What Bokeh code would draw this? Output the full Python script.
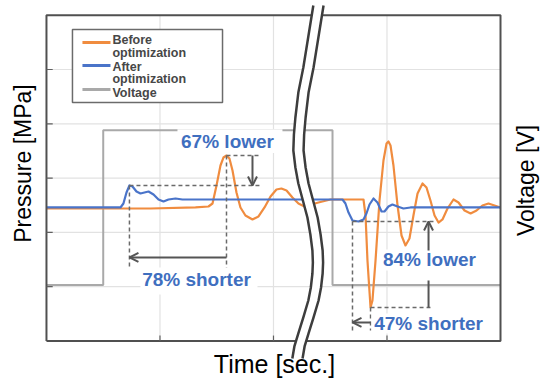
from math import pi
from bokeh.plotting import figure
from bokeh.models import Range1d, Arrow, OpenHead
from bokeh.core.properties import value
from bokeh.embed import file_html
from bokeh.resources import INLINE

FONT = "Liberation Sans"

# ---------------- data (arbitrary units: time 0..4, pressure/voltage 0..6) ----------------
x_grid = [1, 2, 3]
y_grid = [1, 2, 3, 4, 5]

voltage_t = [0, 0.50, 0.50, 2.52, 2.52, 4.0]
voltage_v = [1.03, 1.03, 3.88, 3.88, 1.03, 1.03]

before_t = [0, 0.916, 1.313, 1.427, 1.463, 1.498, 1.533, 1.559, 1.586, 1.612, 1.639, 1.674,
            1.709, 1.753, 1.815, 1.868, 1.921, 1.974, 2.026, 2.070, 2.115, 2.167, 2.220,
            2.273, 2.396, 2.502, 2.793, 2.811, 2.828, 2.855, 2.872, 2.899, 2.934, 2.969,
            2.996, 3.013, 3.031, 3.057, 3.093, 3.128, 3.163, 3.198, 3.233, 3.269, 3.313,
            3.348, 3.383, 3.419, 3.454, 3.489, 3.533, 3.586, 3.630, 3.683, 3.736, 3.789,
            3.841, 3.894, 3.947, 4.0]
before_p = [2.440, 2.440, 2.459, 2.477, 2.532, 2.864, 3.232, 3.379, 3.416, 3.361, 3.140, 2.735,
            2.459, 2.311, 2.238, 2.293, 2.459, 2.661, 2.790, 2.808, 2.772, 2.643, 2.532,
            2.477, 2.551, 2.606, 2.606, 2.311, 1.483, 0.617, 0.746, 1.483, 2.587, 3.324,
            3.637, 3.674, 3.600, 3.232, 2.495, 1.943, 1.759, 1.888, 2.311, 2.716, 2.901,
            2.827, 2.587, 2.311, 2.182, 2.238, 2.440, 2.606, 2.551, 2.403, 2.348, 2.403,
            2.495, 2.532, 2.495, 2.459]

after_t = [0, 0.652, 0.678, 0.705, 0.731, 0.758, 0.793, 0.828, 0.863, 0.899, 0.943, 0.987,
           1.031, 1.075, 1.137, 1.198, 1.269, 2.608, 2.634, 2.661, 2.696, 2.749, 2.793,
           2.819, 2.846, 2.881, 2.916, 2.952, 2.978, 3.013, 3.048, 3.093, 3.145, 3.207, 4.0]
after_p = [2.459, 2.459, 2.532, 2.735, 2.864, 2.845, 2.753, 2.716, 2.735, 2.753, 2.698, 2.606,
           2.569, 2.606, 2.624, 2.606, 2.606, 2.606, 2.532, 2.366, 2.219, 2.201, 2.238,
           2.348, 2.514, 2.624, 2.551, 2.385, 2.385, 2.477, 2.514, 2.477, 2.440, 2.459, 2.459]

series_labels = ["Before\noptimization", "After\noptimization", "Voltage"]

# annotation reference levels
rise_after_t, rise_before_t = 0.731, 1.586      # first peak times
peak_after_p, peak_before_p = 2.864, 3.416      # first peak heights
dip_after_t, dip_before_t = 2.696, 2.855        # trough times after voltage off
dip_after_p, dip_before_p = 2.201, 0.617        # trough depths

annot_text = ["67% lower", "78% shorter", "84% lower", "47% shorter"]
annot_x = [1.595, 1.322, 3.374, 3.366]
annot_y = [3.674, 1.133, 1.501, 0.322]
annot_box_l = [1.154, 0.828, 2.934, 2.863]
annot_box_r = [2.079, 1.859, 3.833, 3.877]
annot_box_b = [3.46, 0.856, 1.298, 0.138]
annot_box_t = [3.90, 1.354, 1.685, 0.506]

# axis-break (double wavy line) centre path
break_x = [2.396, 2.352, 2.308, 2.264, 2.238, 2.225, 2.220, 2.238, 2.264, 2.304, 2.344, 2.370,
           2.388, 2.392, 2.388, 2.374, 2.352, 2.308, 2.264, 2.229, 2.211]
break_y = [6.179, 5.608, 5.037, 4.576, 4.116, 3.803, 3.508, 3.195, 2.901, 2.587, 2.274, 1.961,
           1.667, 1.446, 1.243, 0.985, 0.746, 0.433, 0.138, -0.101, -0.322]
break_half_gap = 0.045

ORANGE = "#F08C3F"
BLUE = "#4A74C9"
GRAY = "#A9A9A9"
TXT_BLUE = "#3F6FBF"
DARK = "#555555"

p = figure(width=542, height=378, x_range=Range1d(-0.405, 4.370), y_range=Range1d(-0.691, 6.271),
           output_backend="svg", toolbar_location=None, x_axis_type=None, y_axis_type=None,
           min_border=0, outline_line_color=None, title=None,
           background_fill_color="white", border_fill_color="white")

# grid
p.segment(x0=[0] * len(y_grid), y0=y_grid, x1=[4] * len(y_grid), y1=y_grid,
          line_color="#E2E2E2", line_width=1.2)
p.segment(x0=x_grid, y0=[0] * len(x_grid), x1=x_grid, y1=[6] * len(x_grid),
          line_color="#E2E2E2", line_width=1.2)

# series
p.line(voltage_t, voltage_v, line_color=GRAY, line_width=2)
p.line(before_t, before_p, line_color=ORANGE, line_width=2.2, line_join="round")
p.line(after_t, after_p, line_color=BLUE, line_width=2.2, line_join="round")

# dashed helper lines
dx0 = [rise_after_t, rise_before_t, rise_after_t, rise_before_t, dip_after_t, dip_after_t, dip_before_t, dip_before_t]
dy0 = [peak_after_p, peak_before_p, peak_after_p, peak_before_p, dip_after_p, dip_after_p, dip_before_p, dip_before_p]
dx1 = [1.885, 1.885, rise_after_t, rise_before_t, 3.427, dip_after_t, 3.383, dip_before_t]
dy1 = [peak_after_p, peak_before_p, 1.335, 1.335, dip_after_p, 0.193, dip_before_p, 0.193]
p.segment(x0=dx0, y0=dy0, x1=dx1, y1=dy1, line_color="#6A6A6A", line_width=1.5, line_dash="4 3")

# arrows
arrows = [
    (1.815, peak_before_p, 1.815, peak_after_p),
    (rise_before_t, 1.538, rise_after_t, 1.538),
    (3.366, 1.667, 3.366, dip_after_p),
    (dip_before_t, 0.341, dip_after_t, 0.341),
]
for xs, ys, xe, ye in arrows:
    p.add_layout(Arrow(x_start=xs, y_start=ys, x_end=xe, y_end=ye, line_color=DARK, line_width=2,
                       end=OpenHead(size=9, line_color=DARK, line_width=2)))
p.segment(x0=[3.366], y0=[dip_before_p], x1=[3.366], y1=[1.114], line_color=DARK, line_width=2)

# annotation labels on white boxes
p.quad(left=annot_box_l, right=annot_box_r, bottom=annot_box_b, top=annot_box_t,
       fill_color="white", line_color=None)
p.text(x=annot_x, y=annot_y, text=annot_text, text_font=value(FONT), text_font_size=value("19px"),
       text_font_style="bold", text_color=TXT_BLUE, text_align="center", text_baseline="middle")

# legend (drawn by hand to match the stacked labels)
p.quad(left=[0.229], right=[1.551], bottom=[4.392], top=[5.737], fill_color="white",
       line_color="#6B6B6B", line_width=1.5)
leg_y = [5.497, 5.074, 4.632]
p.segment(x0=[0.317] * 3, y0=leg_y, x1=[0.564] * 3, y1=leg_y,
          line_color=[ORANGE, BLUE, GRAY], line_width=3)
leg_text = []
for lab in series_labels:
    leg_text += lab.split("\n")
p.text(x=[0.581] * len(leg_text), y=[5.552, 5.295, 5.055, 4.816, 4.576], text=leg_text,
       text_font=value(FONT), text_font_size=value("12.5px"), text_font_style="bold",
       text_color="#474747", text_align="left", text_baseline="middle")

# frame and ticks
p.line([0, 4, 4, 0, 0], [0, 0, 6, 6, 0], line_color="#505050", line_width=2)
p.segment(x0=[0] * len(y_grid), y0=y_grid, x1=[0.055] * len(y_grid), y1=y_grid,
          line_color="#606060", line_width=1.2)
p.segment(x0=x_grid, y0=[0] * len(x_grid), x1=x_grid, y1=[0.1] * len(x_grid),
          line_color="#606060", line_width=1.2)

# axis break
left_x = [b - break_half_gap for b in break_x]
right_x = [b + break_half_gap for b in break_x]
p.patch(left_x + right_x[::-1], break_y + break_y[::-1], fill_color="white", line_color=None)
p.line(left_x, break_y, line_color="#3D3D3D", line_width=2.5, line_join="round")
p.line(right_x, break_y, line_color="#3D3D3D", line_width=2.5, line_join="round")

# axis titles
p.text(x=[-0.211], y=[3.269], text=["Pressure [MPa]"], angle=pi / 2, text_font=value(FONT),
       text_font_size=value("23px"), text_color="black", text_align="center", text_baseline="middle")
p.text(x=[4.229], y=[2.956], text=["Voltage [V]"], angle=pi / 2, text_font=value(FONT),
       text_font_size=value("23px"), text_color="black", text_align="center", text_baseline="middle")
p.text(x=[2.009], y=[-0.433], text=["Time [sec.]"], text_font=value(FONT),
       text_font_size=value("25px"), text_color="black", text_align="center", text_baseline="middle")

open("out.html", "w").write(file_html(p, INLINE))
